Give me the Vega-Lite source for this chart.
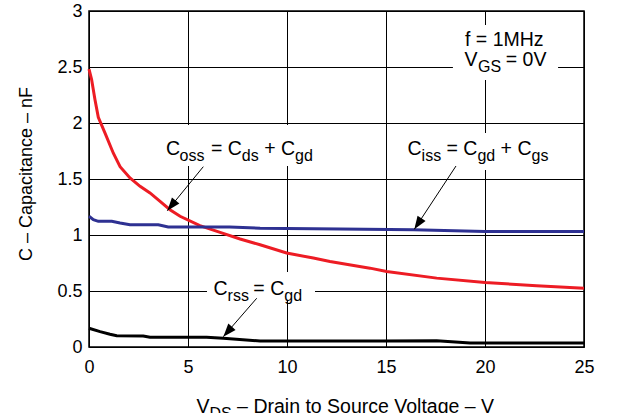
{
  "$schema": "https://vega.github.io/schema/vega-lite/v6.json",
  "width": 495,
  "height": 336,
  "autosize": {"type": "none"},
  "padding": {"left": 89, "top": 11, "right": 45, "bottom": 66},
  "background": "white",
  "config": {
    "view": {"stroke": "black", "strokeWidth": 1.5},
    "font": "Liberation Sans",
    "axis": {
      "grid": true, "gridColor": "black", "gridOpacity": 1, "gridWidth": 1,
      "domain": false, "ticks": false, "labelFlush": false,
      "labelFont": "Liberation Sans", "labelFontSize": 18, "labelColor": "black",
      "titleFont": "Liberation Sans", "titleFontSize": 18, "titleFontWeight": "normal", "titleColor": "black"
    }
  },
  "datasets": {
    "curves": [
      {"series": "Coss", "x": 0, "y": 2.48}, {"series": "Coss", "x": 0.13, "y": 2.39}, {"series": "Coss", "x": 0.3, "y": 2.21},
      {"series": "Coss", "x": 0.47, "y": 2.05}, {"series": "Coss", "x": 0.81, "y": 1.91}, {"series": "Coss", "x": 1.23, "y": 1.73},
      {"series": "Coss", "x": 1.57, "y": 1.61}, {"series": "Coss", "x": 2.07, "y": 1.51}, {"series": "Coss", "x": 2.58, "y": 1.435},
      {"series": "Coss", "x": 3.08, "y": 1.376}, {"series": "Coss", "x": 3.59, "y": 1.3}, {"series": "Coss", "x": 4.09, "y": 1.226},
      {"series": "Coss", "x": 4.6, "y": 1.167}, {"series": "Coss", "x": 5.6, "y": 1.083}, {"series": "Coss", "x": 6.62, "y": 1.023},
      {"series": "Coss", "x": 7.63, "y": 0.964}, {"series": "Coss", "x": 8.64, "y": 0.913}, {"series": "Coss", "x": 9.98, "y": 0.839},
      {"series": "Coss", "x": 11.33, "y": 0.794}, {"series": "Coss", "x": 12.17, "y": 0.764}, {"series": "Coss", "x": 14.19, "y": 0.704},
      {"series": "Coss", "x": 15.03, "y": 0.674}, {"series": "Coss", "x": 17.56, "y": 0.615}, {"series": "Coss", "x": 20.0, "y": 0.576},
      {"series": "Coss", "x": 22.6, "y": 0.546}, {"series": "Coss", "x": 25, "y": 0.525},
      {"series": "Ciss", "x": 0, "y": 1.167}, {"series": "Ciss", "x": 0.22, "y": 1.137}, {"series": "Ciss", "x": 0.47, "y": 1.122},
      {"series": "Ciss", "x": 1.15, "y": 1.122}, {"series": "Ciss", "x": 1.57, "y": 1.107}, {"series": "Ciss", "x": 2.07, "y": 1.092},
      {"series": "Ciss", "x": 3.5, "y": 1.092}, {"series": "Ciss", "x": 4.0, "y": 1.072}, {"series": "Ciss", "x": 7.1, "y": 1.072},
      {"series": "Ciss", "x": 8.64, "y": 1.06}, {"series": "Ciss", "x": 12.68, "y": 1.054}, {"series": "Ciss", "x": 16.4, "y": 1.047},
      {"series": "Ciss", "x": 20, "y": 1.032}, {"series": "Ciss", "x": 25, "y": 1.032},
      {"series": "Crss", "x": 0, "y": 0.167}, {"series": "Crss", "x": 0.56, "y": 0.137}, {"series": "Crss", "x": 1.06, "y": 0.114},
      {"series": "Crss", "x": 1.4, "y": 0.101}, {"series": "Crss", "x": 2.74, "y": 0.098}, {"series": "Crss", "x": 3.08, "y": 0.087},
      {"series": "Crss", "x": 5.94, "y": 0.087}, {"series": "Crss", "x": 6.78, "y": 0.078}, {"series": "Crss", "x": 8.64, "y": 0.054},
      {"series": "Crss", "x": 14.7, "y": 0.054}, {"series": "Crss", "x": 17.56, "y": 0.056}, {"series": "Crss", "x": 19.25, "y": 0.035},
      {"series": "Crss", "x": 25, "y": 0.035}
    ],
    "boxes": [
      {"x": 18.38, "x2": 23.69, "y": 2.875, "y2": 2.384},
      {"x": 3.586, "x2": 11.566, "y": 1.982, "y2": 1.616},
      {"x": 15.707, "x2": 23.586, "y": 1.911, "y2": 1.58},
      {"x": 5.96, "x2": 11.414, "y": 0.67, "y2": 0.42}
    ],
    "arrows": [
      {"id": "oss", "x": 5.773, "y": 1.61, "x2": 3.955, "y2": 1.217},
      {"id": "rss", "x": 8.47, "y": 0.435, "x2": 6.783, "y2": 0.092},
      {"id": "iss", "x": 18.535, "y": 1.616, "x2": 16.43, "y2": 1.051}
    ],
    "labels": [
      {"role": "main", "text": "C", "x": 3.889, "y": 1.714},
      {"role": "sub", "text": "oss", "x": 4.576, "y": 1.714},
      {"role": "main", "text": "= C", "x": 6.158, "y": 1.714},
      {"role": "sub", "text": "ds", "x": 7.717, "y": 1.714},
      {"role": "main", "text": "+ C", "x": 8.845, "y": 1.714},
      {"role": "sub", "text": "gd", "x": 10.404, "y": 1.714},
      {"role": "main", "text": "C", "x": 16.086, "y": 1.714},
      {"role": "sub", "text": "iss", "x": 16.798, "y": 1.714},
      {"role": "main", "text": "= C", "x": 18.057, "y": 1.714},
      {"role": "sub", "text": "gd", "x": 19.616, "y": 1.714},
      {"role": "main", "text": "+ C", "x": 20.789, "y": 1.714},
      {"role": "sub", "text": "gs", "x": 22.348, "y": 1.714},
      {"role": "main", "text": "C", "x": 6.288, "y": 0.464},
      {"role": "sub", "text": "rss", "x": 7.0, "y": 0.464},
      {"role": "main", "text": "= C", "x": 8.3, "y": 0.464},
      {"role": "sub", "text": "gd", "x": 9.86, "y": 0.464},
      {"role": "main", "text": "f = 1MHz", "x": 18.99, "y": 2.688},
      {"role": "main", "text": "V", "x": 18.965, "y": 2.509},
      {"role": "sub", "text": "GS", "x": 19.646, "y": 2.509},
      {"role": "main", "text": "= 0V", "x": 21.05, "y": 2.509},
      {"role": "main", "text": "V", "x": 5.429, "y": -0.585},
      {"role": "sub", "text": "DS", "x": 6.086, "y": -0.585},
      {"role": "main", "text": "– Drain to Source Voltage – V", "x": 7.481, "y": -0.585}
    ]
  },
  "layer": [
    {
      "data": {"name": "boxes"},
      "mark": {"type": "rect", "fill": "white"},
      "encoding": {
        "x": {"field": "x", "type": "quantitative", "scale": {"domain": [0, 25], "nice": false},
              "axis": {"values": [0, 5, 10, 15, 20, 25], "title": null, "labelPadding": 11}},
        "x2": {"field": "x2"},
        "y": {"field": "y", "type": "quantitative", "scale": {"domain": [0, 3], "nice": false},
              "axis": {"values": [0, 0.5, 1, 1.5, 2, 2.5, 3], "format": ".1~f", "labelPadding": 7,
                       "title": "C – Capacitance – nF", "titleAngle": -90, "titleX": -57.5, "titleY": 162.5,
                       "titleAlign": "center", "titleBaseline": "alphabetic"}},
        "y2": {"field": "y2"}
      }
    },
    {
      "data": {"name": "curves"},
      "mark": {"type": "line", "strokeWidth": 3},
      "encoding": {
        "x": {"field": "x", "type": "quantitative"},
        "y": {"field": "y", "type": "quantitative"},
        "color": {"field": "series", "type": "nominal", "legend": null,
                  "scale": {"domain": ["Coss", "Ciss", "Crss"], "range": ["#ED1C24", "#2E3192", "#000000"]}}
      }
    },
    {
      "data": {"name": "arrows"},
      "mark": {"type": "rule", "color": "black", "strokeWidth": 1},
      "encoding": {
        "x": {"field": "x", "type": "quantitative"},
        "y": {"field": "y", "type": "quantitative"},
        "x2": {"field": "x2"},
        "y2": {"field": "y2"}
      }
    },
    {
      "data": {"name": "arrows"},
      "transform": [{"filter": "datum.id == 'oss'"}],
      "mark": {"type": "point", "shape": "M0,0L-0.8,2.2L0.8,2.2Z", "filled": true, "color": "black", "opacity": 1, "size": 144, "angle": 219.3},
      "encoding": {"x": {"field": "x2", "type": "quantitative"}, "y": {"field": "y2", "type": "quantitative"}}
    },
    {
      "data": {"name": "arrows"},
      "transform": [{"filter": "datum.id == 'rss'"}],
      "mark": {"type": "point", "shape": "M0,0L-0.8,2.2L0.8,2.2Z", "filled": true, "color": "black", "opacity": 1, "size": 144, "angle": 221},
      "encoding": {"x": {"field": "x2", "type": "quantitative"}, "y": {"field": "y2", "type": "quantitative"}}
    },
    {
      "data": {"name": "arrows"},
      "transform": [{"filter": "datum.id == 'iss'"}],
      "mark": {"type": "point", "shape": "M0,0L-0.8,2.2L0.8,2.2Z", "filled": true, "color": "black", "opacity": 1, "size": 144, "angle": 213.4},
      "encoding": {"x": {"field": "x2", "type": "quantitative"}, "y": {"field": "y2", "type": "quantitative"}}
    },
    {
      "data": {"name": "labels"},
      "transform": [{"filter": "datum.role == 'main'"}],
      "mark": {"type": "text", "align": "left", "baseline": "alphabetic", "fontSize": 19.5, "font": "Liberation Sans", "color": "black"},
      "encoding": {
        "x": {"field": "x", "type": "quantitative"},
        "y": {"field": "y", "type": "quantitative"},
        "text": {"field": "text", "type": "nominal"}
      }
    },
    {
      "data": {"name": "labels"},
      "transform": [{"filter": "datum.role == 'sub'"}],
      "mark": {"type": "text", "align": "left", "baseline": "alphabetic", "fontSize": 16, "dy": 6, "font": "Liberation Sans", "color": "black"},
      "encoding": {
        "x": {"field": "x", "type": "quantitative"},
        "y": {"field": "y", "type": "quantitative"},
        "text": {"field": "text", "type": "nominal"}
      }
    }
  ]
}
